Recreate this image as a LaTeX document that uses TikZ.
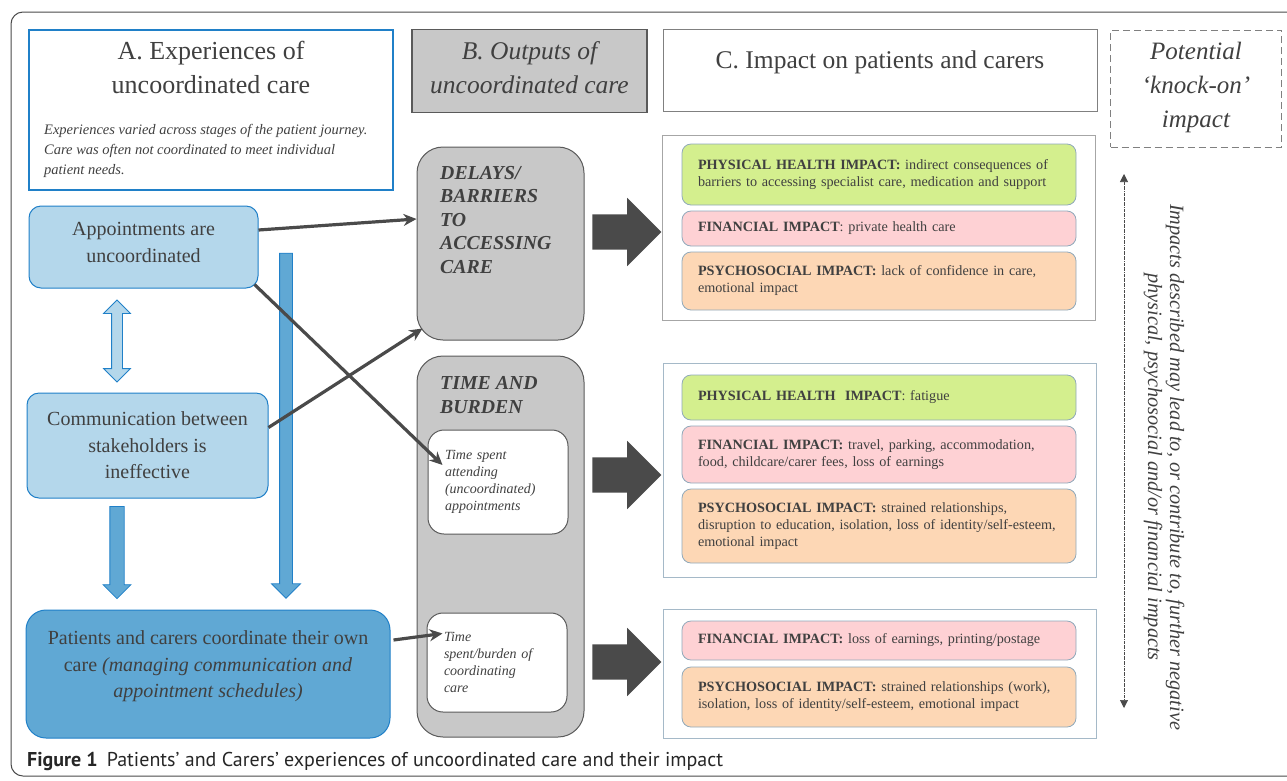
\documentclass[tikz,border=0pt]{standalone}
\usepackage{fontspec}
\setmainfont{Liberation Serif}
\newfontfamily\capfont{PT Sans}
\usetikzlibrary{positioning, arrows.meta, calc, shapes.arrows}
\definecolor{txtgray}{RGB}{64,64,64}
\definecolor{bluedge}{RGB}{32,128,200}
\definecolor{lightblue}{RGB}{180,215,235}
\definecolor{midblue}{RGB}{96,168,212}
\definecolor{colgray}{RGB}{200,200,200}
\definecolor{edgegray}{RGB}{90,90,90}
\definecolor{darkarrow}{RGB}{74,74,74}
\definecolor{physgreen}{RGB}{212,239,142}
\definecolor{finpink}{RGB}{254,209,212}
\definecolor{psyorange}{RGB}{253,215,181}
\definecolor{boxedge}{RGB}{143,168,186}
\newcommand{\fsz}[2]{\fontsize{#1}{#2}\selectfont}

\begin{document}
\begin{tikzpicture}[x=1pt, y=-1pt,
    every node/.style={text=txtgray},
    header/.style={rectangle, line width=1.2pt, inner sep=0pt},
    expbox/.style={rectangle, rounded corners=12pt, draw=bluedge, line width=1pt, fill=lightblue, align=center, inner sep=0pt, font=\fsz{20}{26.5}},
    outbox/.style={rectangle, rounded corners=26pt, draw=edgegray, line width=1pt, fill=colgray, inner sep=0pt},
    outtitle/.style={anchor=base west, align=left, inner sep=0pt, font=\fsz{19.8}{23.5}\bfseries\itshape},
    timebox/.style={rectangle, rounded corners=16pt, draw=edgegray, line width=1pt, fill=white, inner xsep=17pt, inner ysep=0pt, text width=106pt, align=left, font=\fsz{14}{16.8}\itshape},
    impactframe/.style={rectangle, line width=0.8pt, inner sep=0pt, minimum width=433pt},
    impact/.style={rectangle, rounded corners=9pt, draw=boxedge, line width=0.8pt, inner xsep=16pt, inner ysep=0pt, text width=362pt, align=left, font=\fsz{14.2}{17}},
    link/.style={-{Stealth[length=13pt, width=12pt]}, line width=3.2pt, draw=darkarrow},
    blockarrow/.style={single arrow, fill=darkarrow, inner xsep=0pt, inner ysep=17.5pt, minimum height=69pt, minimum width=68pt, single arrow head extend=16.5pt},
    blueup/.style={double arrow, rotate=90, draw=bluedge, line width=0.8pt, fill=lightblue, inner xsep=0pt},
    bluedown/.style={single arrow, rotate=-90, draw=bluedge, line width=0.8pt, fill=midblue, inner xsep=0pt},
    knockline/.style={{Triangle[length=8pt, width=8pt]}-{Triangle[length=8pt, width=8pt]}, densely dash dot, line width=0.6pt, draw=darkarrow}
]

% Page and frame
\useasboundingbox (0,0) rectangle (1287,780);
\clip (0,0) rectangle (1287,780);
\draw[darkarrow, line width=1pt, rounded corners=12pt] (11,12) rectangle (1330,776);

% Column headers
\node[header, draw=bluedge, fill=white, minimum width=364pt, minimum height=160pt] (hdrA) at (211,110) {};
\node[anchor=base, align=center, font=\fsz{26}{34}] (titleA) at (211,93) {A. Experiences of\\uncoordinated care};
\node[anchor=base west, align=left, inner sep=0pt, font=\fsz{14.5}{20}\itshape] (noteA) at (44,174) {Experiences varied across stages of the patient journey.\\Care was often not coordinated to meet individual\\patient needs.};
\node[header, draw=edgegray, fill=colgray, minimum width=235pt, minimum height=83pt] (hdrB) at (529.5,71) {};
\node[anchor=base, align=center, font=\fsz{25.5}{34}\itshape] (titleB) at (529.5,93) {B. Outputs of\\uncoordinated care};
\node[header, draw=gray, line width=1pt, fill=white, minimum width=434pt, minimum height=82pt] (hdrC) at (880,70) {};
\node[anchor=base, font=\fsz{25.5}{30}] (titleC) at (880,68) {C. Impact on patients and carers};
\node[header, draw=gray, dash pattern=on 7pt off 4pt, line width=1pt, minimum width=171pt, minimum height=117pt] (knock) at (1196,88.5) {};
\node[anchor=base, align=center, font=\fsz{25}{34}\itshape] (knockTxt) at (1196,127) {Potential\\‘knock-on’\\impact};

% A. experiences
\node[expbox, text depth=9pt, minimum width=229pt, minimum height=82pt] (appts) at (143.5,247) {Appointments are\\uncoordinated};
\node[expbox, minimum width=241pt, minimum height=105pt] (comm) at (147.5,445.5) {Communication between\\stakeholders is\\ineffective};
\node[expbox, text depth=19pt, fill=midblue, rounded corners=20pt, minimum width=364pt, minimum height=128pt] (patients) at (208,674) {Patients and carers coordinate their own\\care \textit{(managing communication and}\\\textit{appointment schedules)}};

\node[blueup, inner ysep=5pt, minimum height=82pt, minimum width=26pt, double arrow head extend=8pt] (apptsComm) at (117,341) {};
\node[bluedown, inner ysep=6.75pt, minimum height=92pt, minimum width=27pt, single arrow head extend=6.75pt] (downA) at (117,549) {};
\node[bluedown, inner ysep=6pt, minimum height=345pt, minimum width=28pt, single arrow head extend=8pt] (downB) at (286,422.5) {};

% B. outputs
\node[outbox, minimum width=167pt, minimum height=193pt] (delays) at (500.5,243.5) {};
\node[outtitle] (delaysTxt) at (440,273) {DELAYS/\\BARRIERS\\TO\\ACCESSING\\CARE};
\node[outbox, minimum width=167pt, minimum height=381pt] (burden) at (500.5,546.5) {};
\node[outtitle, font=\fsz{19.8}{24}\bfseries\itshape] (burdenTxt) at (440,413) {TIME AND\\BURDEN};
\node[timebox, minimum height=104pt] (attend) at (498,482) {Time spent\\attending\\(uncoordinated)\\appointments};
\node[timebox, minimum height=99pt] (selfcoord) at (497,662.5) {Time\\spent/burden of\\coordinating\\care};

\foreach \yy [count=\i] in {232,475,662}
    \node[blockarrow] (gap\i) at (618,\yy) {};

% C. impacts
\node[impactframe, draw=gray!70, minimum height=185pt] (frame1) at (879,227.5) {};
\node[impactframe, draw=boxedge!80, minimum height=214pt] (frame2) at (879.5,470) {};
\node[impactframe, draw=boxedge!80, minimum height=129pt] (frame3) at (879.5,673.5) {};

\node[impact, fill=physgreen, minimum height=61pt] (phys1) at (879,174.5) {\textbf{PHYSICAL HEALTH IMPACT:} indirect consequences of\\barriers to accessing specialist care, medication and support};
\node[impact, fill=finpink, minimum height=35pt] (fin1) at (879,228.5) {\textbf{FINANCIAL IMPACT}: private health care};
\node[impact, fill=psyorange, minimum height=58pt] (psy1) at (879,281) {\textbf{PSYCHOSOCIAL IMPACT:} lack of confidence in care,\\emotional impact};

\node[impact, fill=physgreen, minimum height=45pt] (phys2) at (879,397.5) {\textbf{PHYSICAL HEALTH\ \ IMPACT}: fatigue};
\node[impact, fill=finpink, minimum height=57pt] (fin2) at (879,454.5) {\textbf{FINANCIAL IMPACT:} travel, parking, accommodation,\\food, childcare/carer fees, loss of earnings};
\node[impact, fill=psyorange, minimum height=74pt] (psy2) at (879,526) {\textbf{PSYCHOSOCIAL IMPACT:} strained relationships,\\disruption to education, isolation, loss of identity/self-esteem,\\emotional impact};

\node[impact, fill=finpink, minimum height=39pt] (fin3) at (879,640.5) {\textbf{FINANCIAL IMPACT:} loss of earnings, printing/postage};
\node[impact, fill=psyorange, minimum height=60pt] (psy3) at (879,697) {\textbf{PSYCHOSOCIAL IMPACT:} strained relationships (work),\\isolation, loss of identity/self-esteem, emotional impact};

% knock-on
\coordinate (ktop) at (1124,174);
\coordinate (kbot) at (1124,708);
\draw[knockline] (ktop) -- (kbot);
\node[rotate=-90, align=center, font=\fsz{20.3}{22}\itshape] (knockNote) at (1164,467) {Impacts described may lead to, or contribute to, further negative\\physical, psychosocial and/or financial impacts};

% Links
\draw[link] ([yshift=17pt]appts.east) -- ([yshift=24.5pt]delays.west);
\draw[link] ([shift={(-4,-4)}]appts.south east) -- ([shift={(15,-17)}]attend.west);
\draw[link] ([yshift=18pt]comm.east) -- ([shift={(6,-12)}]delays.south west);
\draw[link] ([shift={(3,-34)}]patients.east) -- ([shift={(16,-29)}]selfcoord.west);

% Caption
\node[anchor=base west, inner sep=0pt, text=black!85, font=\capfont\fsz{20}{24}] (caption) at (27,766) {\textbf{Figure 1}\hspace{9pt}Patients’ and Carers’ experiences of uncoordinated care and their impact};

\end{tikzpicture}
\end{document}
